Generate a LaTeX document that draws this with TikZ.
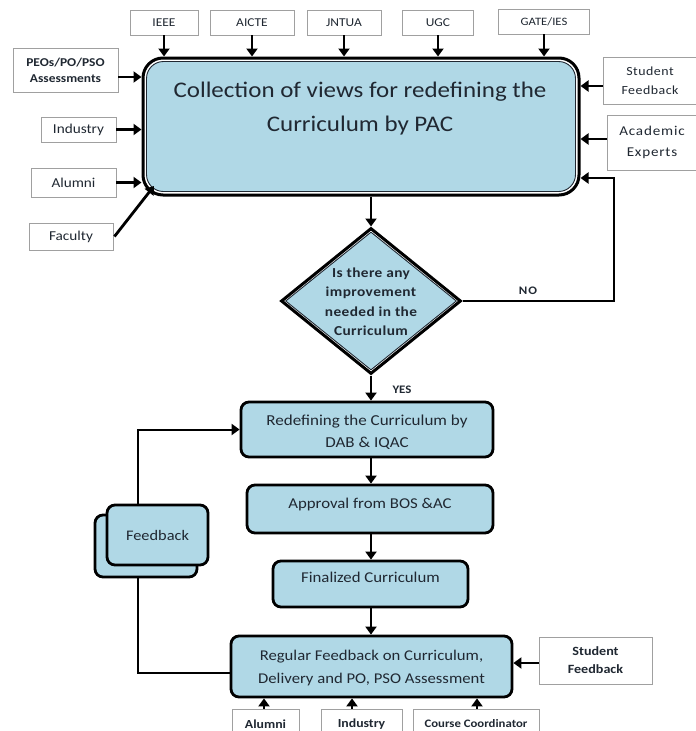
\documentclass[tikz,border=0pt]{standalone}
\usepackage{fontspec}
\setmainfont{Carlito}[FakeStretch=1.12]
\usetikzlibrary{arrows.meta,shapes.geometric,calc}
\definecolor{boxblue}{RGB}{176,216,230}
\definecolor{ink}{RGB}{32,40,50}
\definecolor{edgegray}{RGB}{160,160,160}
\newcommand{\fsz}[2]{\fontsize{#1}{#2}\selectfont}
\newcommand{\spaced}[1]{\addfontfeature{LetterSpace=#1}}
\begin{document}
\begin{tikzpicture}[x=1pt,y=-1pt,
  src/.style={draw=edgegray,line width=0.9pt,fill=white,inner sep=0pt,align=center,text=ink,font=\fsz{12}{15}},
  srcb/.style={src,font=\bfseries\fsz{12}{15}},
  bluebox/.style={draw=black,line width=2.8pt,fill=boxblue,rounded corners=8pt,inner sep=0pt,align=center,text=ink,font=\fsz{15}{22}},
  label/.style={inner sep=0pt,align=center,text=ink},
  arr/.style={line width=2.8pt,-{Triangle[length=8pt,width=11pt]}},
  thinline/.style={line width=2pt},
  thinarr/.style={line width=2pt,-{Triangle[length=8pt,width=11pt]}}]
\useasboundingbox (0,0) rectangle (696,731);

% ---- central collection box (double border) ----
\node[draw=black,line width=3pt,fill=white,rounded corners=20pt,minimum width=436,minimum height=137,inner sep=0pt] (main) at (361,126.5) {};
\node[draw=ink,line width=0.9pt,fill=boxblue,rounded corners=17pt,minimum width=429,minimum height=130,inner sep=0pt] (maininner) at (361,126.5) {};
\node[label,font=\fsz{22.3}{34}] (maintext) at (360,109) {Collection of views for redefining the\\Curriculum by PAC};

% ---- sources along the top ----
\begin{scope}[every node/.append style={font=\fsz{13.3}{15}\spaced{8}}]
\node[src,minimum width=68,minimum height=25] (ieee) at (164,22.5) {IEEE};
\node[src,minimum width=84,minimum height=25] (aicte) at (252,22.5) {AICTE};
\node[src,minimum width=74,minimum height=25] (jntua) at (344,22.5) {JNTUA};
\node[src,minimum width=71,minimum height=25] (ugc) at (438,22.5) {UGC};
\node[src,minimum width=91,minimum height=25,font=\fsz{11.3}{14}] (gate) at (544,21.5) {GATE/IES};
\end{scope}
\foreach \s in {ieee,aicte,jntua,ugc,gate}
  \draw[arr] (\s.south) -- (\s.south |- main.north);

% ---- sources on the left ----
\node[srcb,minimum width=105,minimum height=44,font=\bfseries\fsz{12}{16}] (peo) at (65.5,70) {PEOs/PO/PSO\\Assessments};
\node[src,minimum width=75,minimum height=25,font=\fsz{13.6}{15}] (indl) at (78.5,129.5) {Industry};
\node[src,minimum width=85,minimum height=29,font=\fsz{13.6}{15}] (alul) at (73.5,182.5) {Alumni};
\node[src,minimum width=84,minimum height=27,font=\fsz{13.6}{15}] (fac) at (71,236.5) {Faculty};
\draw[arr] ([yshift=-7pt]peo.east) -- ([yshift=-7pt]peo.east -| main.west);
\draw[arr] (indl.east) -- (indl.east -| main.west);
\draw[arr] (alul.east) -- (alul.east -| main.west);
\coordinate (faccorner) at (154,186);
\draw[arr] ([xshift=1pt]fac.east) -- (faccorner);

% ---- sources on the right ----
\node[src,minimum width=94,minimum height=47,font=\fsz{12.4}{19}\spaced{4}] (stud) at (650,80.5) {Student\\Feedback};
\node[src,minimum width=90,minimum height=55,font=\fsz{13.5}{21}\spaced{6}] (acad) at (652,142.5) {Academic\\Experts};
\draw[arr] ([yshift=-5.5pt]stud.west) -- ([yshift=-5.5pt]stud.west -| main.east);
\draw[arr] ([yshift=3.5pt]acad.west) -- ([yshift=3.5pt]acad.west -| main.east);

% ---- decision ----
\node[diamond,draw=black,line width=3pt,fill=white,minimum width=180,minimum height=146,inner sep=0pt] (dia) at (371,301) {};
\node[diamond,draw=ink,line width=0.9pt,fill=boxblue,minimum width=171,minimum height=138,inner sep=0pt] (diainner) at (371,301) {};
\node[label,font=\bfseries\fsz{13.7}{19.5}\spaced{3}] (diatext) at (371,301.5) {Is there any\\improvement\\needed in the\\Curriculum};
\draw[arr] (main.south -| dia.north) -- (dia.north);

% NO branch back to the collection box
\coordinate (noturn) at (614,178);
\draw[thinarr] (dia.east) -| (noturn) -- (noturn -| main.east);
\node[label,font=\bfseries\fsz{11.5}{12}\spaced{8}] (nolabel) at (528,291) {NO};

% ---- YES path ----
\node[bluebox,minimum width=252,minimum height=55] (redef) at (367,429.5) {};
\node[label,font=\fsz{15.2}{22}] (redeftext) at (367,432) {Redefining the Curriculum by\\DAB \& IQAC};
\node[label,font=\bfseries\fsz{11.5}{12}] (yeslabel) at (402,390) {YES};
\draw[arr] (dia.south) -- (dia.south |- redef.north);

\node[bluebox,minimum width=246,minimum height=48] (approve) at (370,509) {};
\node[label,font=\fsz{15}{22}] (approvetext) at (370,504) {Approval from BOS \&AC};
\draw[arr] (redef.south -| dia.south) -- (approve.north -| dia.south);

\node[bluebox,minimum width=195,minimum height=46] (final) at (370.5,584) {};
\node[label,font=\fsz{15}{22}] (finaltext) at (370.5,577) {Finalized Curriculum};
\draw[arr] (approve.south -| dia.south) -- (final.north -| dia.south);

\node[bluebox,minimum width=281,minimum height=61] (regular) at (371.5,666.5) {};
\node[label,font=\fsz{14.9}{23}] (regulartext) at (371.5,668) {Regular Feedback on Curriculum,\\Delivery and PO, PSO Assessment};
\draw[arr] (final.south -| dia.south) -- (regular.north -| dia.south);

% ---- feedback loop ----
\node[bluebox,minimum width=102,minimum height=62] (fbback) at (146,546) {};
\node[bluebox,minimum width=101,minimum height=60,font=\fsz{14.6}{22}] (fbfront) at (157.5,535) {Feedback};
\coordinate (fbx) at (138,0);
\draw[thinarr] (fbx |- fbfront.north) |- (redef.west);
\coordinate (fblow) at (138,673);
\draw[thinline] (fbx |- fbback.south) -- (fblow) -- (fblow -| regular.west);

% ---- inputs to the regular feedback ----
\node[srcb,minimum width=113,minimum height=47,font=\bfseries\fsz{12.6}{18}] (studb) at (595.5,660.5) {Student\\Feedback};
\draw[arr] ([yshift=-2.5pt]studb.west) -- ([yshift=-2.5pt]studb.west -| regular.east);

\node[srcb,minimum width=67,minimum height=30,font=\bfseries\fsz{12.3}{14}] (alub) at (265.5,724) {Alumni};
\node[srcb,minimum width=81,minimum height=30,font=\bfseries\fsz{12.3}{14}] (indb) at (361.5,724) {Industry};
\node[srcb,minimum width=126,minimum height=30,font=\bfseries\fsz{11.4}{14}] (coord) at (476,724) {Course Coordinator};
\draw[arr] (alub.north -| 264,0) -- (regular.south -| 264,0);
\draw[arr] (indb.north -| 352,0) -- (regular.south -| 352,0);
\draw[arr] (coord.north -| 477,0) -- (regular.south -| 477,0);
\end{tikzpicture}
\end{document}
